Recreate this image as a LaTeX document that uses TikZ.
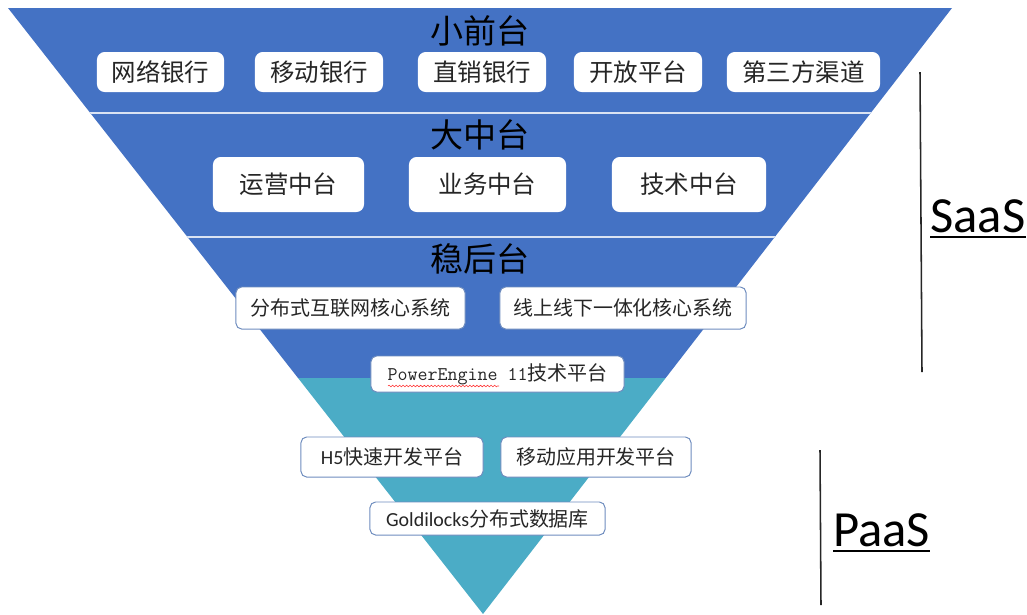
\documentclass[tikz,border=0pt]{standalone}
\usepackage{fontspec}
\setmainfont{Noto Sans CJK SC}
\newfontfamily\calfont{Carlito}
\usetikzlibrary{decorations.pathmorphing}
\definecolor{sblue}{HTML}{4472C4}
\definecolor{pteal}{HTML}{4BACC6}
\definecolor{boxline}{RGB}{110,140,190}

\begin{document}
\begin{tikzpicture}[x=0.025cm,y=-0.025cm,
  title/.style={font=\fontsize{23.5}{28}\selectfont,text=black,inner sep=0pt},
  big/.style={rectangle,rounded corners=5.5pt,fill=white,inner sep=0pt,font=\fontsize{17.4}{20}\selectfont,text=black!85},
  small/.style={rectangle,rounded corners=4pt,fill=white,draw=boxline,line width=0.7pt,inner sep=0pt,font=\fontsize{14.2}{17}\selectfont,text=black!85},
  row1/.style={big,minimum height=1cm},
  row2/.style={big,minimum height=1.375cm},
  side/.style={font=\calfont\fontsize{36}{40}\selectfont,inner sep=0pt,anchor=base west},
  bar/.style={black!85,line width=1.1pt}]
\useasboundingbox (0,0) rectangle (1027,614);

% funnel
\begin{scope}
\clip (8,8) -- (952,8) -- (483,614) -- cycle;
\fill[sblue] (0,0) rectangle (1027,378);
\fill[pteal] (0,378) rectangle (1027,614);
\draw[white!80!sblue,line width=1pt] (0,113) -- (1027,113);
\draw[white!80!sblue,line width=1pt] (0,237) -- (1027,237);
\end{scope}

\node[title] at (480,31) (t1) {小前台};
\node[title] at (480,135) (t2) {大中台};
\node[title] at (480,259) (t3) {稳后台};

\node[row1,minimum width=3.175cm] at (160.5,72) (f1) {网络银行};
\node[row1,minimum width=3.2cm] at (319,72) (f2) {移动银行};
\node[row1,minimum width=3.2cm] at (482,72) (f3) {直销银行};
\node[row1,minimum width=3.2cm] at (638,72) (f4) {开放平台};
\node[row1,minimum width=3.825cm] at (803.5,72) (f5) {第三方渠道};

\node[row2,minimum width=3.775cm] at (288.5,184.5) (m1) {运营中台};
\node[row2,minimum width=3.925cm] at (487.5,184.5) (m2) {业务中台};
\node[row2,minimum width=3.85cm] at (689,184.5) (m3) {技术中台};

\node[small,minimum width=5.725cm,minimum height=1.05cm] at (350.5,308) (b1) {分布式互联网核心系统};
\node[small,minimum width=6.15cm,minimum height=1.05cm] at (623,308) (b2) {线上线下一体化核心系统};
\node[small,minimum width=6.325cm,minimum height=0.9cm] at (497.5,374) (pe) {{\ttfamily\fontsize{13.8}{16}\selectfont PowerEngine 11}技术平台};
\draw[red!80,line width=0.4pt,decorate,decoration={snake,amplitude=0.6pt,segment length=2.5pt}] (388,386) -- (499,386);

\node[small,minimum width=4.55cm,minimum height=1cm] at (392,457) (p1) {{\calfont H5}快速开发平台};
\node[small,minimum width=4.75cm,minimum height=1cm] at (596,457) (p2) {移动应用开发平台};
\node[small,minimum width=5.875cm,minimum height=0.825cm] at (487.5,518.5) (p3) {{\calfont Goldilocks}分布式数据库};

% SaaS / PaaS
\coordinate (s1) at (920,72);
\coordinate (s2) at (922,372);
\draw[bar] (s1) -- (s2);
\node[side] at (930,232) (saas) {SaaS};
\draw[line width=1.4pt] ([yshift=-3.6pt]saas.base west) -- ([yshift=-3.6pt]saas.base east);

\coordinate (q1) at (820,450);
\coordinate (q2) at (821,605);
\draw[bar] (q1) -- (q2);
\node[side] at (833,546) (paas) {PaaS};
\draw[line width=1.4pt] ([yshift=-3.6pt]paas.base west) -- ([yshift=-3.6pt]paas.base east);
\end{tikzpicture}
\end{document}
